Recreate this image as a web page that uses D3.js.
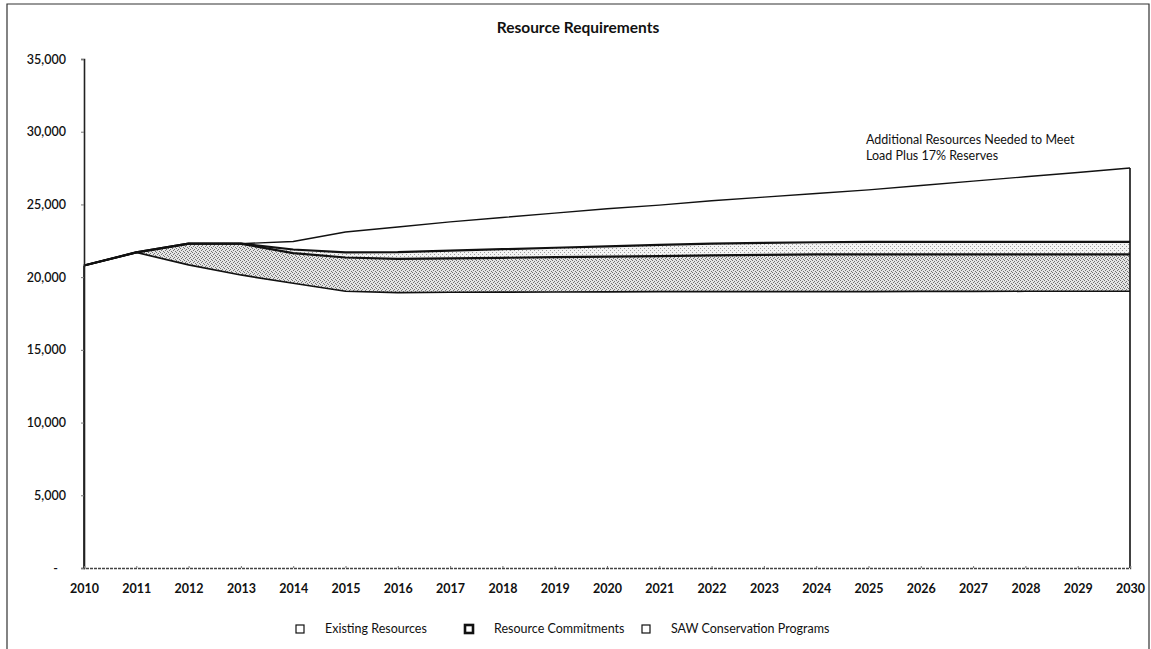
<!DOCTYPE html>
<html>
<head>
<meta charset="utf-8">
<script src="https://cdn.jsdelivr.net/npm/d3@7"></script>
<style>
  html, body { margin: 0; padding: 0; background: #fff; }
  svg { display: block; font-family: Lato, "Open Sans", sans-serif; }
</style>
</head>
<body>
<svg id="chart" width="1151" height="649"></svg>
<script>
// Years on the category axis
const years = [2010, 2011, 2012, 2013, 2014, 2015, 2016, 2017, 2018, 2019, 2020,
               2021, 2022, 2023, 2024, 2025, 2026, 2027, 2028, 2029, 2030];

// Stacked capacity components (MW)
const existingResources = [20800, 21700, 20840, 20150, 19580, 19030, 18930, 18960, 18970, 18980, 18990,
                           19000, 19000, 19000, 19000, 19010, 19020, 19020, 19030, 19030, 19030];
const resourceCommitments = [0, 0, 1460, 2150, 2070, 2320, 2320, 2330, 2360, 2390, 2420,
                             2450, 2500, 2530, 2560, 2560, 2550, 2550, 2540, 2540, 2540];
const sawConservation = [0, 0, 0, 0, 250, 350, 470, 530, 590, 650, 710,
                         770, 800, 820, 840, 850, 850, 850, 850, 850, 850];
// Gap up to load plus 17% reserves
const additionalNeeded = [0, 0, 0, 0, 550, 1400, 1730, 1980, 2180, 2380, 2580,
                          2730, 2950, 3150, 3350, 3580, 3880, 4180, 4480, 4780, 5080];

const yTicks = [0, 5000, 10000, 15000, 20000, 25000, 30000, 35000];
const legendLabels = ["Existing Resources", "Resource Commitments", "SAW Conservation Programs"];

const svg = d3.select("#chart");
const margin = { left: 84, right: 1130, top: 59, bottom: 568 };

const x = d3.scalePoint().domain(years).range([margin.left, margin.right]);
const y = d3.scaleLinear().domain([0, 35000]).range([margin.bottom, margin.top]);

// Stipple textures for the shaded bands
const defs = svg.append("defs");
function stipple(id, bg, ink, dots) {
  const p = defs.append("pattern").attr("id", id)
    .attr("width", 4).attr("height", 4).attr("patternUnits", "userSpaceOnUse");
  p.append("rect").attr("width", 4).attr("height", 4).attr("fill", bg);
  dots.forEach(([dx, dy]) => p.append("rect").attr("x", dx).attr("y", dy)
    .attr("width", 1).attr("height", 1).attr("fill", ink));
}
stipple("dense", "#e4e4e4", "#707070", [[0, 0], [2, 1], [1, 2], [3, 3]]);
stipple("light", "#f3f3f3", "#9a9a9a", [[0, 0], [2, 2]]);

// Outer frame
svg.append("path")
  .attr("d", "M7,649 V4 H1149 V649")
  .attr("fill", "none").attr("stroke", "#333").attr("stroke-width", 1.2);

// Title
svg.append("text").attr("x", 578).attr("y", 33).attr("text-anchor", "middle")
  .attr("font-size", 15.5).attr("font-weight", 700).attr("fill", "#111")
  .text("Resource Requirements");

// Stack the series
const keys = ["existing", "commitments", "saw", "additional"];
const table = years.map((yr, i) => ({
  year: yr,
  existing: existingResources[i],
  commitments: resourceCommitments[i],
  saw: sawConservation[i],
  additional: additionalNeeded[i]
}));
const series = d3.stack().keys(keys)(table);

const fills = { existing: "#fff", commitments: "url(#dense)", saw: "url(#light)", additional: "#fff" };

const area = d3.area()
  .x(d => x(d.data.year))
  .y0(d => y(d[0]))
  .y1(d => y(d[1]));

svg.append("g").selectAll("path").data(series).join("path")
  .attr("d", area)
  .attr("fill", d => fills[d.key])
  .attr("shape-rendering", "crispEdges");

// Boundary lines on top of each band
const topLine = d3.line().x(d => x(d.data.year)).y(d => y(d[1]));
const widths = { existing: 1.7, commitments: 2.2, saw: 2.2, additional: 1.4 };
svg.append("g").selectAll("path").data(series).join("path")
  .attr("d", topLine)
  .attr("fill", "none").attr("stroke", "#111")
  .attr("stroke-width", d => widths[d.key])
  .attr("stroke-linejoin", "round");

// Closing edges of the stack at the first and last year
const last = series[series.length - 1];
[0, years.length - 1].forEach(i => {
  svg.append("line")
    .attr("x1", x(years[i])).attr("x2", x(years[i]))
    .attr("y1", y(0)).attr("y2", y(last[i][1]))
    .attr("stroke", "#111").attr("stroke-width", 1.6);
});

// Y axis
const yAxis = svg.append("g").attr("transform", `translate(${margin.left},0)`)
  .call(d3.axisLeft(y).tickValues(yTicks).tickSize(3).tickPadding(15)
    .tickFormat(v => v === 0 ? "-" : d3.format(",")(v)));
yAxis.select(".domain").attr("stroke", "#222").attr("stroke-width", 1.6);
yAxis.selectAll(".tick line").attr("stroke", "#777");
yAxis.selectAll(".tick text").attr("font-size", 12.5).attr("fill", "#111")
  .attr("font-family", "Lato, sans-serif").attr("font-weight", 600);
yAxis.selectAll(".tick text").filter(v => v === 0).attr("dx", -8);

// X axis
const xAxis = svg.append("g").attr("transform", `translate(0,${margin.bottom})`)
  .call(d3.axisBottom(x).tickSize(-2).tickPadding(16));
xAxis.select(".domain").attr("stroke", "#444").attr("stroke-width", 1.4)
  .attr("stroke-dasharray", "3,1");
xAxis.selectAll(".tick line").attr("stroke", "#777");
xAxis.selectAll(".tick text").attr("font-size", 12.5).attr("fill", "#111")
  .attr("font-family", "Lato, sans-serif").attr("font-weight", 700);

// Annotation for the top band
const note = svg.append("text").attr("font-size", 12.5).attr("fill", "#111")
  .attr("font-family", "Lato, sans-serif");
note.append("tspan").attr("x", 866).attr("y", 144).text("Additional Resources Needed to Meet");
note.append("tspan").attr("x", 866).attr("y", 160).text("Load Plus 17% Reserves");

// Legend
const legendX = [296, 465, 642];
const legend = svg.append("g").attr("transform", "translate(0,629)");
legendLabels.forEach((lab, i) => {
  const g = legend.append("g").attr("transform", `translate(${legendX[i]},0)`);
  g.append("rect").attr("x", 0).attr("y", -4).attr("width", 8).attr("height", 8)
    .attr("fill", "#fff").attr("stroke", "#111")
    .attr("stroke-width", i === 1 ? 2.6 : 1.2);
  g.append("text").attr("x", 29).attr("y", 4).attr("font-size", 12.5)
    .attr("fill", "#111").attr("font-family", "Lato, sans-serif").text(lab);
});
</script>
</body>
</html>
